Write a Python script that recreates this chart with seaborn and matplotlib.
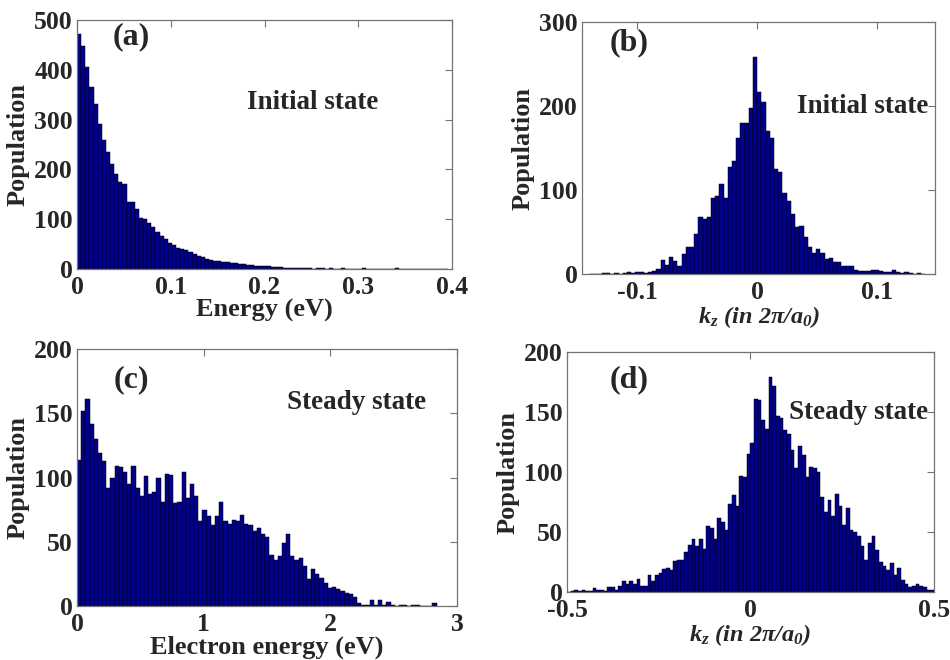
import numpy as np
import pandas as pd
import seaborn as sns
import matplotlib
matplotlib.use("Agg")
import matplotlib.pyplot as plt

# bin counts
energy_init = [472, 448, 406, 366, 332, 292, 259, 235, 210, 191, 174, 171, 134, 134, 120,
               103, 100, 93, 85, 75, 67, 60, 53, 48, 43, 41, 38, 34, 30, 27, 24, 21, 19,
               17, 16, 15, 14, 12, 12, 11, 10, 9, 8, 7, 7, 6, 6, 5, 5, 4,
               3, 3, 3, 2, 2, 3, 2, 1, 2, 2, 1, 2, 1, 1, 2, 0, 1, 1, 0, 2,
               1, 0, 1, 1, 0, 1, 0, 2, 0, 1, 0, 0, 1, 0, 0, 1, 0, 0, 1, 0]
kz_init = [0, 0, 0, 1, 1, 0, 1, 0, 1, 2, 1, 2, 2, 1, 3, 4,
           6, 17, 11, 20, 16, 10, 24, 32, 32, 48, 68, 65, 68, 91, 93, 107, 91, 127, 135,
           162, 180, 180, 198, 258,
           217, 205, 170, 162, 125, 122, 96, 87, 72, 56, 57, 44, 32, 25, 30, 25, 18, 19,
           14, 14, 10, 9, 9, 5, 4, 4, 4, 5, 5, 4, 3, 3, 5, 2, 1, 2, 1, 0, 1, 0]
energy_steady = [114, 152, 161, 142, 130, 119, 113, 92, 100, 109, 108, 104, 95, 109, 92, 86,
                 101, 87, 89, 100, 81, 103, 102, 80, 81, 104, 84, 95, 86, 66, 75, 70, 63, 70,
                 81, 66, 64, 67, 66, 71, 64, 63, 58, 61, 56, 54,
                 40, 36, 39, 49, 56, 39, 36, 37, 31, 21, 29, 25, 22, 18, 14, 15, 13, 12, 10,
                 9, 7,
                 2, 1, 1, 5, 1, 5, 1, 3, 1, 0, 1, 1, 0, 1, 1, 0, 0, 0, 2]
kz_steady = [0, 1, 2, 1, 2, 1, 1, 3, 2, 2, 1, 4, 4, 2, 5, 9, 7, 9, 7, 11, 5, 5, 14, 9, 14,
             16, 19, 20, 18, 26, 27, 27, 33, 39, 44, 38, 44, 36, 55, 53, 44, 62, 58, 52, 73,
             81, 72, 97, 96, 115,
             124, 161, 160, 143, 136, 179, 172, 147, 145, 135, 132, 118, 103, 122, 114, 96,
             104, 103, 100, 79, 67, 77, 63, 82, 72, 56, 70, 52, 50, 47, 38, 27, 41, 47, 35,
             25, 22, 18, 24, 14, 20, 10, 7, 4, 5, 7, 5, 4, 2, 2]

# (first bin edge, bin width)
bins_a = (0.0, 0.0044)
bins_b = (-0.14, 0.0035)
bins_c = (0.0, 0.033)
bins_d = (-0.5, 0.01)

panel_tags = ["(a)", "(b)", "(c)", "(d)"]
state_text = ["Initial state", "Initial state", "Steady state", "Steady state"]
kz_label = r"$k_z\ (in\ 2\pi/a_0)$"
xlabels = ["Energy (eV)", kz_label, "Electron energy (eV)", kz_label]

xt_a, xtl_a = [0, 0.1, 0.2, 0.3, 0.4], ["0", "0.1", "0.2", "0.3", "0.4"]
xt_b, xtl_b = [-0.1, 0, 0.1], ["-0.1", "0", "0.1"]
xt_c, xtl_c = [0, 1, 2, 3], ["0", "1", "2", "3"]
xt_d, xtl_d = [-0.5, 0, 0.5], ["-0.5", "0", "0.5"]
yt_a = [0, 100, 200, 300, 400, 500]
yt_b = [0, 100, 200, 300]
yt_c = [0, 50, 100, 150, 200]
yt_d = [0, 50, 100, 150, 200]

sns.set_style("white")
plt.rcParams["font.family"] = ["Liberation Serif", "DejaVu Serif"]
plt.rcParams["font.weight"] = "bold"
plt.rcParams["axes.unicode_minus"] = False
plt.rcParams["mathtext.fontset"] = "custom"
plt.rcParams["mathtext.rm"] = "Liberation Serif:italic:bold"
plt.rcParams["mathtext.it"] = "Liberation Serif:italic:bold"

fig = plt.figure(figsize=(9.5, 6.6), dpi=100)
ax_a = fig.add_axes([0.0811, 0.5924, 0.3947, 0.3773])
ax_b = fig.add_axes([0.6126, 0.5848, 0.3716, 0.3818])
ax_c = fig.add_axes([0.0811, 0.0818, 0.4000, 0.3894])
ax_d = fig.add_axes([0.5968, 0.1030, 0.3863, 0.3636])


def draw_hist(ax, counts, bins):
    start, width = bins
    edges = start + width * np.arange(len(counts) + 1)
    df = pd.DataFrame({"x": edges[:-1] + width / 2, "n": counts})
    sns.histplot(data=df, x="x", weights="n", bins=edges.tolist(), ax=ax, color="#00008A",
                 edgecolor="black", linewidth=0.35, alpha=1)


panels = [
    (ax_a, energy_init, bins_a, (0, 0.4), (0, 500), xt_a, xtl_a, yt_a,
     (0.096, 0.932), (0.453, 0.667)),
    (ax_b, kz_init, bins_b, (-0.146, 0.148), (0, 300), xt_b, xtl_b, yt_b,
     (0.079, 0.917), (0.609, 0.663)),
    (ax_c, energy_steady, bins_c, (0, 3), (0, 200), xt_c, xtl_c, yt_c,
     (0.095, 0.879), (0.553, 0.790)),
    (ax_d, kz_steady, bins_d, (-0.5, 0.5), (0, 200), xt_d, xtl_d, yt_d,
     (0.117, 0.883), (0.605, 0.750)),
]

for i, (ax, counts, bins, xl, yl, xt, xtl, yt, tag_pos, st_pos) in enumerate(panels):
    draw_hist(ax, counts, bins)
    ax.set_xlim(*xl)
    ax.set_ylim(*yl)
    ax.set_xticks(xt)
    ax.set_xticklabels(xtl)
    ax.set_yticks(yt)
    ax.set_yticklabels([str(v) for v in yt])
    ax.tick_params(direction="in", top=True, right=True, length=5, width=0.8,
                   color="0.45", labelsize=18.5)
    ax.tick_params(axis="x", pad=5)
    ax.tick_params(axis="y", pad=3)
    for lab in ax.get_xticklabels() + ax.get_yticklabels():
        lab.set_fontweight("bold")
    for sp in ax.spines.values():
        sp.set_color("0.45")
        sp.set_linewidth(0.9)
    ax.set_ylabel("Population", fontsize=19, fontweight="bold", labelpad=3)
    xsize = 17.5 if xlabels[i] == kz_label else 19
    ax.set_xlabel(xlabels[i], fontsize=xsize, fontweight="bold", labelpad=0)
    ax.text(tag_pos[0], tag_pos[1], panel_tags[i], transform=ax.transAxes,
            fontsize=23, fontweight="bold", va="center", ha="left")
    ax.text(st_pos[0], st_pos[1], state_text[i], transform=ax.transAxes,
            fontsize=19.5, fontweight="bold", va="center", ha="left")

fig.savefig("out.png", dpi=100)
